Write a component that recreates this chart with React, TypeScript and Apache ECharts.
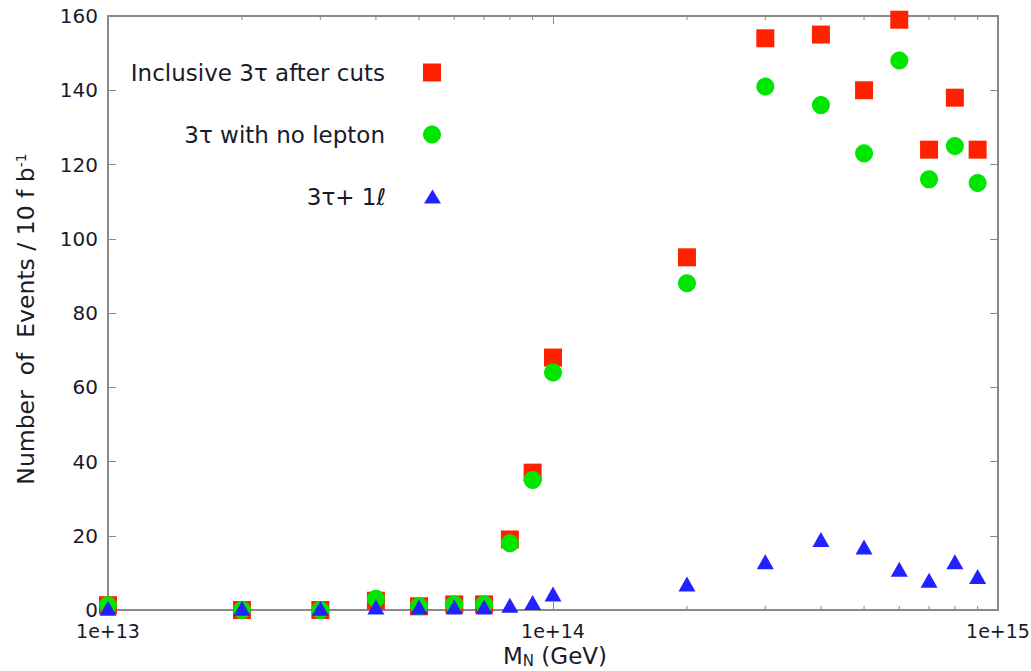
import React, { useEffect, useRef } from "react";
import * as echarts from "echarts";

const masses = [1e13, 2e13, 3e13, 4e13, 5e13, 6e13, 7e13, 8e13, 9e13, 1e14, 2e14, 3e14, 4e14, 5e14, 6e14, 7e14, 8e14, 9e14];
const inclusive = [1.3, 0, 0, 2.5, 1, 1.5, 1.5, 19, 37, 68, 95, 154, 155, 140, 159, 124, 138, 124];
const noLepton = [1.3, 0, 0, 3, 1, 1.5, 1.5, 18, 35, 64, 88, 141, 136, 123, 148, 116, 125, 115];
const oneLepton = [0.5, 0.5, 0.5, 0.8, 0.8, 0.8, 0.8, 1.3, 2, 4.3, 7, 13, 19, 17, 11, 8, 13, 9];
const minorTicks = [2e13, 3e13, 4e13, 5e13, 6e13, 7e13, 8e13, 9e13, 2e14, 3e14, 4e14, 5e14, 6e14, 7e14, 8e14, 9e14];
const seriesNames = ["Inclusive 3τ after cuts", "3τ with no lepton", "3τ+ 1ℓ"];

const FONT = "DejaVu Sans";
const AXIS_COLOR = "#8a8a8a";
const TEXT_COLOR = "#1a1a2a";

export default function App() {
  const ref = useRef<HTMLDivElement>(null);
  useEffect(() => {
    if (!ref.current) return;
    const chart = echarts.init(ref.current, null, { renderer: "svg" });
    const expFmt = (v: number) => "1e+" + Math.round(Math.log10(v));
    const xBase = {
      type: "log" as const,
      logBase: 10,
      min: 1e13,
      max: 1e15,
      axisLine: { show: true, onZero: false, lineStyle: { color: AXIS_COLOR, width: 2 } },
      axisTick: { show: true, inside: true, length: 8, lineStyle: { color: AXIS_COLOR, width: 1 } },
      splitLine: { show: false },
      minorTick: { show: false },
      minorSplitLine: { show: false },
    };
    const yBase = {
      type: "value" as const,
      min: 0,
      max: 160,
      interval: 20,
      axisLine: { show: true, onZero: false, lineStyle: { color: AXIS_COLOR, width: 2 } },
      axisTick: { show: true, inside: true, length: 8, lineStyle: { color: AXIS_COLOR, width: 1 } },
      splitLine: { show: false },
    };
    const legendCommon = {
      orient: "horizontal" as const,
      align: "right" as const,
      right: 1031 - 446,
      itemWidth: 18,
      itemHeight: 18,
      textStyle: { fontFamily: FONT, fontSize: 23, color: TEXT_COLOR, padding: [0, 33, 0, 0] },
    };
    chart.setOption({
      animation: false,
      backgroundColor: "#ffffff",
      grid: { left: 108, right: 33, top: 16, bottom: 61, containLabel: false, outerBoundsMode: "none" },
      legend: [
        { ...legendCommon, top: 56, data: [{ name: seriesNames[0], icon: "rect" }] },
        { ...legendCommon, top: 118, data: [{ name: seriesNames[1], icon: "circle" }] },
        { ...legendCommon, top: 180, itemWidth: 17, itemHeight: 14, data: [{ name: seriesNames[2], icon: "triangle" }] },
      ],
      xAxis: [
        {
          ...xBase,
          position: "bottom",
          axisLabel: { show: true, formatter: expFmt, fontFamily: FONT, fontSize: 19, color: TEXT_COLOR, margin: 11 },
          name: "{a|M}{s|N}{a| (GeV)}",
          nameLocation: "middle",
          nameGap: 32,
          nameTextStyle: {
            fontFamily: FONT,
            fontSize: 23,
            padding: [0, 0, 0, 4],
            rich: {
              a: { fontFamily: FONT, fontSize: 23, color: TEXT_COLOR },
              s: { fontFamily: FONT, fontSize: 15, color: TEXT_COLOR, verticalAlign: "bottom", padding: [9, 0, 0, 0] },
            },
          },
        },
        {
          ...xBase,
          position: "top",
          axisLabel: { show: false },
        },
      ],
      yAxis: [
        {
          ...yBase,
          position: "left",
          axisLabel: { show: true, fontFamily: FONT, fontSize: 20, color: TEXT_COLOR, margin: 10 },
          name: "{a|Number  of  Events / 10 f b}{s|-1}",
          nameLocation: "middle",
          nameGap: 70,
          nameRotate: 90,
          nameTextStyle: {
            fontFamily: FONT,
            fontSize: 23.5,
            padding: [0, 12, 0, 0],
            rich: {
              a: { fontFamily: FONT, fontSize: 23.5, color: TEXT_COLOR },
              s: { fontFamily: FONT, fontSize: 14, color: TEXT_COLOR, verticalAlign: "top", padding: [0, 0, 10, 0] },
            },
          },
        },
        {
          ...yBase,
          position: "right",
          axisLabel: { show: false },
        },
      ],
      series: [
        {
          type: "custom",
          name: "minor",
          silent: true,
          clip: false,
          xAxisIndex: 0,
          yAxisIndex: 0,
          data: minorTicks.map((v) => [v, 0]),
          renderItem: (params: any, api: any) => {
            const b = api.coord([api.value(0), 0]);
            const t = api.coord([api.value(0), 160]);
            const st = { stroke: AXIS_COLOR, lineWidth: 1 };
            return {
              type: "group",
              children: [
                { type: "line", shape: { x1: b[0], y1: b[1], x2: b[0], y2: b[1] - 4 }, style: st },
                { type: "line", shape: { x1: t[0], y1: t[1], x2: t[0], y2: t[1] + 4 }, style: st },
              ],
            };
          },
        },
        {
          type: "scatter",
          name: seriesNames[0],
          symbol: "rect",
          symbolSize: 18,
          itemStyle: { color: "#ff2200", opacity: 1 },
          data: masses.map((m, i) => [m, inclusive[i]]),
          clip: false,
          z: 3,
        },
        {
          type: "scatter",
          name: seriesNames[1],
          symbol: "circle",
          symbolSize: 18,
          itemStyle: { color: "#00e600", opacity: 1 },
          data: masses.map((m, i) => [m, noLepton[i]]),
          clip: false,
          z: 4,
        },
        {
          type: "scatter",
          name: seriesNames[2],
          symbol: "triangle",
          symbolSize: [17, 15],
          itemStyle: { color: "#2222ff", opacity: 1 },
          data: masses.map((m, i) => [m, oneLepton[i]]),
          clip: false,
          z: 5,
        },
      ],
    });
    return () => chart.dispose();
  }, []);
  return <div ref={ref} style={{ width: 1031, height: 671, position: "absolute", left: 0, top: 0 }} />;
}
